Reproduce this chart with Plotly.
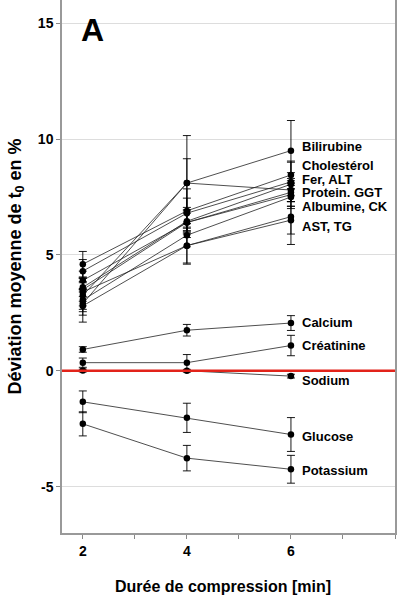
import plotly.graph_objects as go

durations = [2, 4, 6]

series_names = ["Bilirubine", "Cholestérol", "Fer", "ALT", "Protein", "GGT",
                "Albumine", "CK", "AST", "TG",
                "Calcium", "Créatinine", "Sodium", "Glucose", "Potassium"]

bilirubine = [3.25, 8.1, 9.5]
cholesterol = [4.6, 6.9, 8.45]
fer = [4.3, 6.8, 8.15]
alt = [3.6, 6.45, 8.05]
protein = [2.9, 8.1, 7.8]
ggt = [3.9, 6.4, 7.7]
albumine = [3.5, 6.4, 7.6]
ck = [3.05, 5.85, 7.5]
ast = [2.8, 5.4, 6.65]
tg = [3.4, 5.4, 6.5]
calcium = [0.92, 1.75, 2.06]
creatinine = [0.35, 0.35, 1.09]
sodium = [0.01, 0.0, -0.23]
glucose = [-1.34, -2.03, -2.75]
potassium = [-2.29, -3.77, -4.25]

err_bilirubine = [0.6, 2.05, 1.3]
err_cholesterol = [0.55, 0.55, 0.6]
err_fer = [0.5, 1.05, 0.85]
err_alt = [0.4, 0.5, 0.5]
err_protein = [0.5, 1.05, 0.5]
err_ggt = [0.4, 0.4, 0.4]
err_albumine = [0.5, 0.5, 0.5]
err_ck = [0.5, 0.5, 0.5]
err_ast = [0.7, 0.75, 1.2]
err_tg = [0.6, 0.8, 0.6]
err_calcium = [0.12, 0.25, 0.32]
err_creatinine = [0.2, 0.35, 0.44]
err_sodium = [0.06, 0.06, 0.08]
err_glucose = [0.47, 0.63, 0.73]
err_potassium = [0.52, 0.55, 0.6]

values = [bilirubine, cholesterol, fer, alt, protein, ggt, albumine, ck, ast, tg,
          calcium, creatinine, sodium, glucose, potassium]
errors = [err_bilirubine, err_cholesterol, err_fer, err_alt, err_protein, err_ggt,
          err_albumine, err_ck, err_ast, err_tg, err_calcium, err_creatinine,
          err_sodium, err_glucose, err_potassium]

label_texts = ["Bilirubine", "Cholestérol", "Fer, ALT", "Protein. GGT", "Albumine, CK",
               "AST, TG", "Calcium", "Créatinine", "Sodium", "Glucose", "Potassium"]
label_y = [9.68, 8.86, 8.27, 7.7, 7.1, 6.24, 2.09, 1.1, -0.42, -2.84, -4.3]

y_ticks = [-5, 0, 5, 10, 15]
x_ticks = [2, 4, 6]

FONT = "Arial, 'Liberation Sans', sans-serif"

fig = go.Figure()
for name, v, e in zip(series_names, values, errors):
    fig.add_trace(go.Scatter(
        x=durations, y=v, name=name, mode="lines+markers",
        line=dict(color="#222222", width=0.8),
        marker=dict(color="black", size=6.5),
        error_y=dict(type="data", array=e, visible=True, color="black",
                     thickness=0.9, width=4),
        showlegend=False,
    ))

fig.add_hline(y=0, line=dict(color="#e2231a", width=2.5), layer="above")

for t, y in zip(label_texts, label_y):
    fig.add_annotation(x=6.17, y=y, xref="x", yref="y", text=f"<b>{t}</b>",
                       showarrow=False, xanchor="left", yanchor="middle",
                       font=dict(size=13, color="black", family=FONT))

fig.add_annotation(x=0.092, y=0.944, xref="paper", yref="paper", text="<b>A</b>",
                   showarrow=False, xanchor="center", yanchor="middle",
                   font=dict(size=32, color="black", family=FONT))

fig.add_annotation(x=0.482, y=-0.1, xref="paper", yref="paper",
                   text="<b>Durée de compression [min]</b>",
                   showarrow=False, xanchor="center", yanchor="middle",
                   font=dict(size=16, color="black", family=FONT))

fig.update_layout(
    width=397, height=598,
    margin=dict(l=62, r=2, t=0, b=65),
    paper_bgcolor="white", plot_bgcolor="white",
    font=dict(family=FONT, color="black"),
    xaxis=dict(
        range=[1.6, 8], tickvals=x_ticks, ticktext=[f"<b>{v}</b>" for v in x_ticks],
        ticks="outside", ticklen=4, tickcolor="#888", showgrid=False,
        showline=True, linecolor="#999", linewidth=1.5, zeroline=False,
        tickfont=dict(size=14, color="black"),
        minor=dict(ticks="outside", dtick=1, tick0=2, ticklen=4, tickcolor="#888"),
    ),
    yaxis=dict(
        range=[-7, 16], tickvals=y_ticks, ticktext=[f"<b>{v}</b>" for v in y_ticks],
        ticks="outside", ticklen=4, tickcolor="#888",
        showgrid=True, gridcolor="#dddddd", gridwidth=1,
        showline=True, linecolor="#999", linewidth=1.5, mirror=True, zeroline=False,
        tickfont=dict(size=14, color="black"),
        title=dict(text="<b>Déviation moyenne de t<sub>0</sub> en %</b>", standoff=12,
                   font=dict(size=18, color="black")),
    ),
)

fig.write_html("out.html", config={"displayModeBar": False},
               post_script="document.body.style.margin='0';document.body.style.overflow='hidden';")
